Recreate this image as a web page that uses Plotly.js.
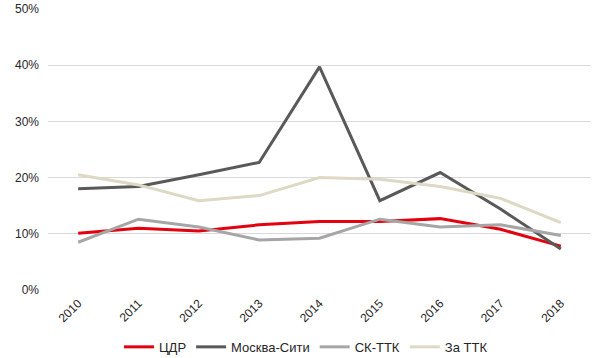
<!DOCTYPE html>
<html><head><meta charset="utf-8">
<script src="https://cdn.plot.ly/plotly-3.0.1.min.js"></script>
<style>body{margin:0;background:#fff}#c{width:600px;height:358px}</style>
</head><body><div id="c"></div>
<script>
const years = ['2010','2011','2012','2013','2014','2015','2016','2017','2018'];
const cdr = [10.1, 11.0, 10.5, 11.6, 12.2, 12.2, 12.7, 10.8, 7.8];
const moscowCity = [18.0, 18.4, 20.5, 22.7, 39.7, 15.9, 20.9, 14.4, 7.3];
const skTtk = [8.5, 12.6, 11.2, 8.9, 9.2, 12.6, 11.2, 11.6, 9.7];
const zaTtk = [20.5, 18.7, 15.9, 16.8, 20.0, 19.7, 18.4, 16.3, 12.0];
const names = ['ЦДР','Москва-Сити','СК-ТТК','За ТТК'];
const colors = ['#e3000f','#595959','#a6a6a6','#ddd9c4'];
const series = [cdr, moscowCity, skTtk, zaTtk];
const traces = series.map((s,i)=>({
  x: years, y: s.map(v=>v/100), name: names[i], type:'scatter', mode:'lines',
  line:{color:colors[i], width:3}
}));
const layout = {
  width:600, height:358,
  margin:{l:48, r:9, t:9, b:68},
  paper_bgcolor:'#fff', plot_bgcolor:'#fff',
  font:{family:'Liberation Sans, Arial, sans-serif', size:12, color:'#262626'},
  xaxis:{type:'category', range:[-0.5,8.5], tickangle:-45, showgrid:false, zeroline:false,
    showline:false, ticks:'', ticklabelstandoff:3, tickfont:{size:12, color:'#262626'}},
  yaxis:{range:[0,0.5], dtick:0.1, tickformat:'.0%', gridcolor:'#d9d9d9', gridwidth:1,
    zeroline:false, showline:false, ticks:'', ticklabelstandoff:8, tickfont:{size:12,color:'#262626'}},
  showlegend:true,
  legend:{orientation:'h', x:0.51, xanchor:'center', xref:'container', y:0.031, yanchor:'middle', yref:'container',
    font:{size:13, color:'#262626'}, itemwidth:30, traceorder:'normal'}
};
Plotly.newPlot('c', traces, layout, {displayModeBar:false, staticPlot:true});
</script></body></html>
